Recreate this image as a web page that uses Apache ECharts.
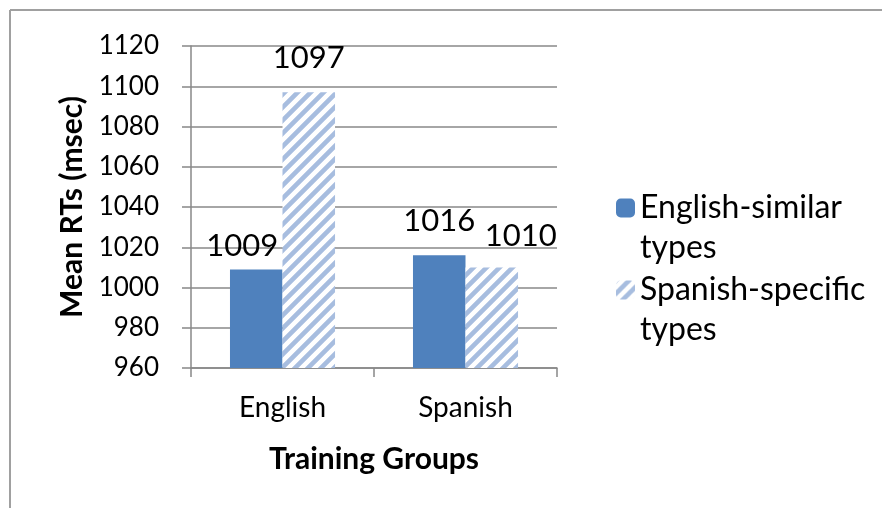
<!DOCTYPE html>
<html lang="en">
<head>
    <meta charset="UTF-8">
    <title>Mean RTs</title>
    <script type="text/javascript" src="https://cdn.jsdelivr.net/npm/echarts@6/dist/echarts.min.js"></script>
    <style>
      body { margin: 0; background: #fff; }
      #chart { width: 882px; height: 508px; }
    </style>
</head>
<body>
  <div id="chart"></div>

<script type="text/javascript">

  // data
  var groups = ['English', 'Spanish'];
  var seriesNames = ['English-similar types', 'Spanish-specific types'];
  var englishSimilar = [1009, 1016];
  var spanishSpecific = [1097, 1010];
  var yTicks = [960, 980, 1000, 1020, 1040, 1060, 1080, 1100, 1120];

  // label nudges, the labels in the original were moved by hand
  var labelShiftA = [[-14, -3], [0, -14]];
  var labelShiftB = [[0, -14], [29, -11]];

  var FONT = 'Lato, "Open Sans", sans-serif';

  // diagonal stripes for the second series
  function stripes(color){
    var s = 13;
    var c = document.createElement('canvas');
    c.width = s; c.height = s;
    var ctx = c.getContext('2d');
    ctx.fillStyle = '#fff';
    ctx.fillRect(0, 0, s, s);
    ctx.strokeStyle = color;
    ctx.lineWidth = 4.6;
    ctx.beginPath();
    ctx.moveTo(-2, s + 2); ctx.lineTo(s + 2, -2);
    ctx.moveTo(-2, 2); ctx.lineTo(2, -2);
    ctx.moveTo(s - 2, s + 2); ctx.lineTo(s + 2, s - 2);
    ctx.stroke();
    return {image: c, repeat: 'repeat'};
  }

  function withLabels(values, shifts){
    var out = [];
    for (var i = 0; i < values.length; i++) {
      out.push({value: values[i], label: {offset: shifts[i]}});
    }
    return out;
  }

  var chart = echarts.init(document.getElementById('chart'));

  var option = {
    backgroundColor: '#fff',
    animation: false,
    textStyle: {fontFamily: FONT},
    graphic: [
      {type: 'line', shape: {x1: 10, y1: 10, x2: 10, y2: 508}, style: {stroke: '#a0a0a0', lineWidth: 2}},
      {type: 'line', shape: {x1: 10, y1: 10, x2: 882, y2: 10}, style: {stroke: '#a0a0a0', lineWidth: 2}}
    ],
    grid: {left: 191, right: 325, top: 46, bottom: 140},
    legend: {
      orient: 'vertical',
      left: 611,
      top: 143,
      itemWidth: 19,
      itemHeight: 19,
      itemGap: -38,
      data: seriesNames,
      // blank first line keeps the icon level with the first text line
      formatter: function (name){
        var k = name.lastIndexOf(' ');
        return '\n' + name.substring(0, k) + '\n' + name.substring(k + 1);
      },
      textStyle: {fontFamily: FONT, fontSize: 32, lineHeight: 40, color: '#000'}
    },
    xAxis: {
      type: 'category',
      data: groups,
      name: 'Training Groups',
      nameLocation: 'middle',
      nameGap: 76,
      nameTextStyle: {fontFamily: FONT, fontSize: 30, fontWeight: 'bold', color: '#000'},
      axisLine: {lineStyle: {color: '#888', width: 1.5}},
      axisTick: {show: true, length: 9, alignWithLabel: false, lineStyle: {color: '#888', width: 1.5}},
      axisLabel: {fontFamily: FONT, fontSize: 28, color: '#000', margin: 26}
    },
    yAxis: {
      type: 'value',
      min: yTicks[0],
      max: yTicks[yTicks.length - 1],
      interval: 20,
      name: 'Mean RTs (msec)',
      nameLocation: 'middle',
      nameGap: 104,
      nameTextStyle: {fontFamily: FONT, fontSize: 30, fontWeight: 'bold', color: '#000'},
      axisLine: {show: true, lineStyle: {color: '#888', width: 1.5}},
      axisTick: {show: true, length: 9, lineStyle: {color: '#888', width: 1.5}},
      splitLine: {lineStyle: {color: '#888', width: 1.5}},
      axisLabel: {fontFamily: FONT, fontSize: 26, color: '#000', margin: 32,
        formatter: function (v){ return String(v); }}
    },
    series: [
      {
        name: seriesNames[0],
        type: 'bar',
        barGap: 0,
        barCategoryGap: '42.6%',
        itemStyle: {color: '#4F81BD'},
        label: {show: true, position: 'top', distance: 5, fontFamily: FONT, fontSize: 31, color: '#000'},
        data: withLabels(englishSimilar, labelShiftA)
      },
      {
        name: seriesNames[1],
        type: 'bar',
        itemStyle: {color: stripes('#A7BDDF')},
        label: {show: true, position: 'top', distance: 5, fontFamily: FONT, fontSize: 31, color: '#000'},
        data: withLabels(spanishSpecific, labelShiftB)
      }
    ]
  };

  chart.setOption(option);
</script>
</body>
</html>
